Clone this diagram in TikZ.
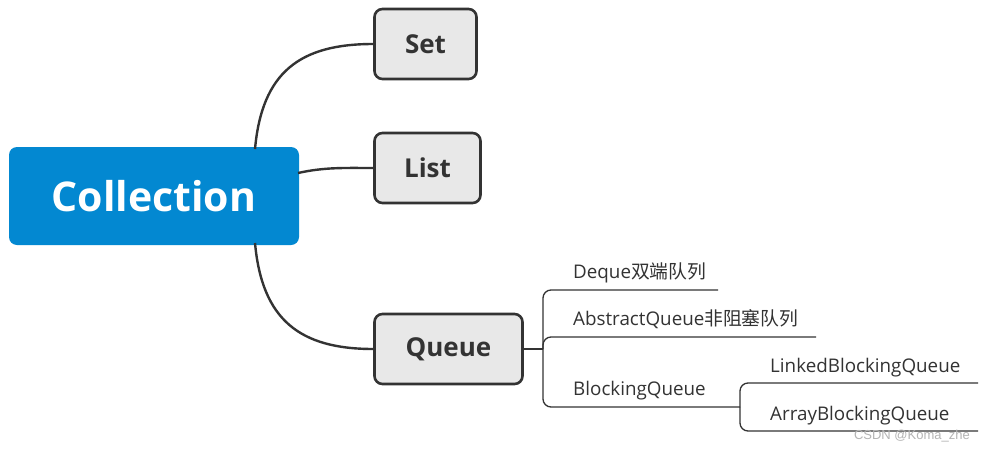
\documentclass[tikz,border=0pt]{standalone}
\usepackage{fontspec}
\setmainfont{Open Sans}
\newfontfamily\cjk{Noto Sans CJK SC}
\newfontfamily\wmfont{Liberation Sans}
\definecolor{rootblue}{HTML}{0388D1}
\definecolor{boxgray}{HTML}{E8E8E8}
\definecolor{ink}{HTML}{333333}
\definecolor{wm}{HTML}{B4B4B4}
\begin{document}
\begin{tikzpicture}[x=1pt,y=-1pt,
  rootbox/.style={fill=rootblue,rounded corners=8pt,minimum width=290pt,minimum height=98pt,inner sep=0pt,text=white,font=\fontsize{41}{41}\selectfont\bfseries},
  topicbox/.style={fill=boxgray,draw=ink,line width=2.6pt,rounded corners=8pt,minimum height=70pt,inner sep=0pt,text=ink,font=\fontsize{26}{26}\selectfont\bfseries},
  conn/.style={draw=ink,line width=2.4pt},
  br/.style={draw=ink,line width=1.3pt,rounded corners=8pt},
  leaf/.style={anchor=base west,inner sep=0pt,text=ink,font=\fontsize{18.8}{19}\selectfont}
]
\useasboundingbox (0,0) rectangle (985,450);
\fill[white] (0,0) rectangle (985,450);

% root and topics
\node[rootbox] (root) at (154,196) {Collection};
\node[topicbox,minimum width=102pt] (set) at (425.5,44) {Set};
\node[topicbox,minimum width=106pt] (list) at (427.5,168) {List};
\node[topicbox,minimum width=148pt] (queue) at (448.5,349) {Queue};

% connectors from root
\coordinate (rs) at (255,149);
\coordinate (rl) at (298,173);
\coordinate (rq) at (255,243);
\draw[conn] (rs) .. controls (262,72) and (300,44) .. (set.west);
\draw[conn] (rl) .. controls (325,167) and (345,168) .. (list.west);
\draw[conn] (rq) .. controls (262,320) and (300,349) .. (queue.west);

% queue branches
\coordinate (qj) at (543,349);
\coordinate (deqE) at (718,290);
\coordinate (absE) at (816,337);
\coordinate (blkE) at (740,407);
\draw[ink,line width=1.3pt] (queue.east) -- (qj);
\draw[br] (qj) |- (deqE);
\draw[br] (qj) |- (absE);
\draw[br] (qj) |- (blkE);

\node[leaf] (deq) at (573,278) {Deque{\cjk 双端队列}};
\node[leaf] (abs) at (573,325) {AbstractQueue{\cjk 非阻塞队列}};
\node[leaf] (blk) at (573,395) {BlockingQueue};

% blocking queue sub-branches
\coordinate (lbqE) at (978,383);
\coordinate (abqE) at (978,431);
\draw[br] (blkE) |- (lbqE);
\draw[br] (blkE) |- (abqE);
\node[leaf] (lbq) at (770,372) {LinkedBlockingQueue};
\node[leaf] (abq) at (770,420) {ArrayBlockingQueue};

% watermark
\node[anchor=base east,inner sep=0pt,text=wm,font=\wmfont\fontsize{13}{13}\selectfont] (wmk) at (970,439) {CSDN @Koma\_zhe};
\end{tikzpicture}
\end{document}
